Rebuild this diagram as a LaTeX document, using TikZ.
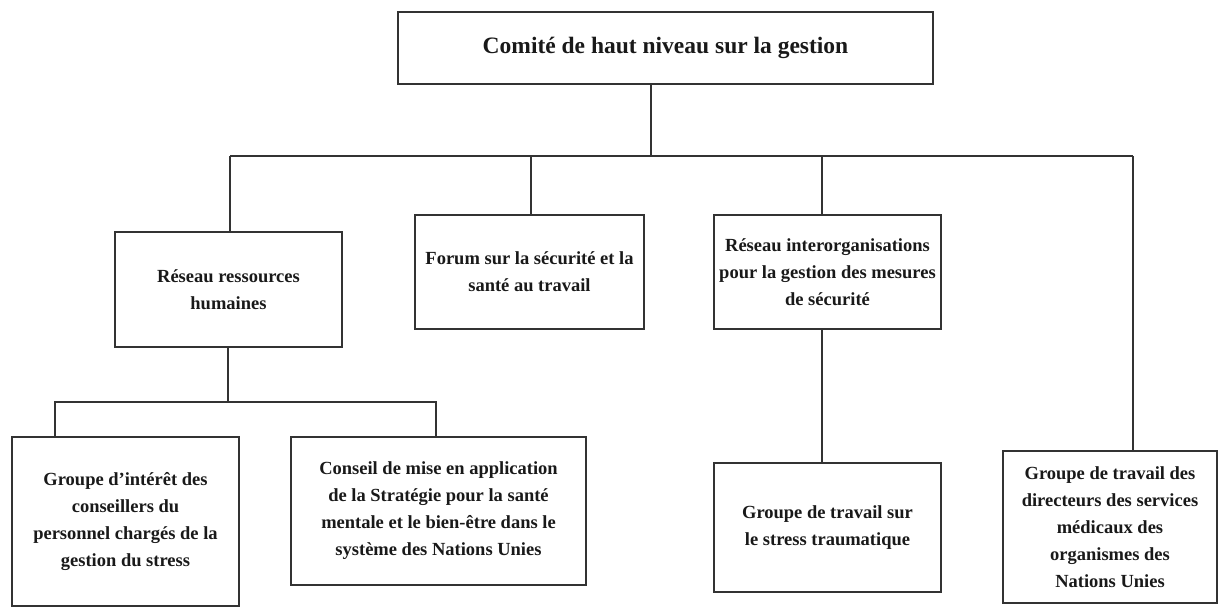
\documentclass[tikz,border=0pt]{standalone}
\usepackage{fontspec}
\setmainfont{Liberation Serif}
\usepackage{tikz}
\usetikzlibrary{positioning,calc}

\begin{document}
\begin{tikzpicture}[
  x=1pt, y=-1pt,
  box/.style={draw=black!80, line width=1.2pt, inner sep=2pt, align=center,
    text=black!90, font=\fontsize{18.5}{27}\selectfont\bfseries},
  link/.style={draw=black!80, line width=1.1pt}
]
  \useasboundingbox (0,0) rectangle (1219,607);

  % Nodes
  \node[box, line width=2.2pt, minimum width=535pt, minimum height=72pt,
    font=\fontsize{23.5}{28}\selectfont\bfseries] (top) at (665.5,48)
    {Comité de haut niveau sur la gestion};
  \node[box, minimum width=227pt, minimum height=115pt] (rh) at (228.5,289.5)
    {Réseau ressources\\humaines};
  \node[box, minimum width=229pt, minimum height=114pt] (forum) at (529.5,272)
    {Forum sur la sécurité et la\\santé au travail};
  \node[box, minimum width=227pt, minimum height=114pt] (inter) at (827.5,272)
    {Réseau interorganisations\\pour la gestion des mesures\\de sécurité};
  \node[box, minimum width=227pt, minimum height=169pt] (interet) at (125.5,521.5)
    {Groupe d'intérêt des\\conseillers du\\personnel chargés de la\\gestion du stress};
  \node[box, minimum width=295pt, minimum height=148pt] (conseil) at (438.5,511)
    {Conseil de mise en application\\de la Stratégie pour la santé\\mentale et le bien-être dans le\\système des Nations Unies};
  \node[box, minimum width=227pt, minimum height=129pt] (stress) at (827.5,527.5)
    {Groupe de travail sur\\le stress traumatique};
  \node[box, minimum width=214pt, minimum height=152pt] (medic) at (1110,527)
    {Groupe de travail des\\directeurs des services\\médicaux des\\organismes des\\Nations Unies};

  % Junctions
  \coordinate (bus) at (651,156);
  \coordinate (busW) at (230,156);
  \coordinate (busF) at (531,156);
  \coordinate (busI) at (822,156);
  \coordinate (busE) at (1133,156);
  \coordinate (subW) at (55,402);
  \coordinate (subM) at (228,402);
  \coordinate (subE) at (436,402);

  % Lines
  \draw[link] (bus |- top.south) -- (bus);
  \draw[link] (busW) -- (busE);
  \draw[link] (busW) -- (busW |- rh.north);
  \draw[link] (busF) -- (busF |- forum.north);
  \draw[link] (busI) -- (busI |- inter.north);
  \draw[link] (busE) -- (busE |- medic.north);
  \draw[link] (subM |- rh.south) -- (subM);
  \draw[link] (subW |- interet.north) -- (subW) -- (subE) -- (subE |- conseil.north);
  \draw[link] (busI |- inter.south) -- (busI |- stress.north);
\end{tikzpicture}
\end{document}
